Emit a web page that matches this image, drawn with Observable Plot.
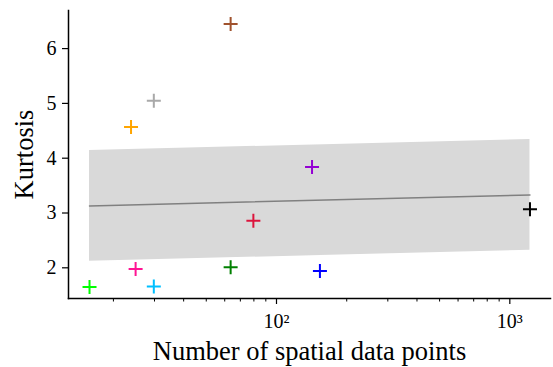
<!DOCTYPE html>
<html>
<head>
<meta charset="utf-8">
<script src="https://cdn.jsdelivr.net/npm/d3@7"></script>
<script src="https://cdn.jsdelivr.net/npm/@observablehq/plot@0.6"></script>
<style>
  html, body { margin: 0; padding: 0; background: #fff; }
</style>
</head>
<body>
<div id="chart"></div>
<script>
// Data
const pointsN = [15.8, 24.9, 29.8, 63.6, 79.6, 23.8, 29.8, 63.6, 142, 153.5, 1220];
const kurtosis = [1.65, 1.98, 1.66, 2.01, 2.86, 4.57, 5.05, 6.45, 3.84, 1.94, 3.07];
const colors = ["#00ff00", "#ff1493", "#00bfff", "#008000", "#dc143c", "#ffa500", "#a9a9a9", "#a0522d", "#9400d3", "#0000ff", "#000000"];

const fitN = [15.8, 1220];
const fitMean = [3.13, 3.33];
const fitLow = [2.12, 2.32];
const fitHigh = [4.14, 4.34];

const xMajorTicks = [100, 1000];
const xMajorLabels = ["10²", "10³"];
const xMinorTicks = [20, 30, 40, 50, 60, 70, 80, 90, 200, 300, 400, 500, 600, 700, 800, 900];
const yTicks = [2, 3, 4, 5, 6];

const points = pointsN.map((n, i) => ({n, k: kurtosis[i], color: colors[i]}));
const fit = fitN.map((n, i) => ({n, mean: fitMean[i], low: fitLow[i], high: fitHigh[i]}));

const plusSymbol = {
  draw(ctx, size) {
    const r = Math.sqrt(size / Math.PI);
    ctx.moveTo(-r, 0); ctx.lineTo(r, 0);
    ctx.moveTo(0, -r); ctx.lineTo(0, r);
  }
};

const chart = Plot.plot({
  width: 553,
  height: 367,
  marginLeft: 68,
  marginRight: 3,
  marginTop: 10,
  marginBottom: 69,
  style: {fontFamily: "'Liberation Serif', 'Times New Roman', serif", fontSize: "20px", background: "#fff", color: "#000"},
  x: {type: "log", domain: [12.84, 1494]},
  y: {domain: [1.44, 6.695]},
  color: {type: "identity"},
  marks: [
    Plot.areaY(fit, {x: "n", y1: "low", y2: "high", fill: "#d9d9d9"}),
    Plot.line(fit, {x: "n", y: "mean", stroke: "#808080", strokeWidth: 1.5}),
    Plot.dot(points, {x: "n", y: "k", stroke: "color", fill: "none", symbol: plusSymbol, r: 7, strokeWidth: 2}),
    Plot.axisY(yTicks, {tickSize: 6, tickPadding: 6, label: null, strokeWidth: 1.2, tickFormat: d => String(d)}),
    Plot.axisX(xMajorTicks, {tickSize: 6, tickPadding: 9, label: null, strokeWidth: 1.2,
      tickFormat: d => xMajorLabels[xMajorTicks.indexOf(d)]}),
    Plot.axisX(xMinorTicks, {tickSize: 3.5, tickFormat: () => "", label: null, strokeWidth: 1}),
    Plot.frame({anchor: "left", stroke: "#000", strokeWidth: 1.5}),
    Plot.frame({anchor: "bottom", stroke: "#000", strokeWidth: 1.5}),
    Plot.text(["Kurtosis"], {frameAnchor: "left", textAnchor: "middle", lineAnchor: "middle", rotate: -90, dx: -44, fontSize: 26.5, fill: "#000"}),
    Plot.text(["Number of spatial data points"], {frameAnchor: "bottom", textAnchor: "middle", lineAnchor: "middle", dy: 53, fontSize: 26.5, fill: "#000"})
  ]
});
document.getElementById("chart").appendChild(chart);
</script>
</body>
</html>
